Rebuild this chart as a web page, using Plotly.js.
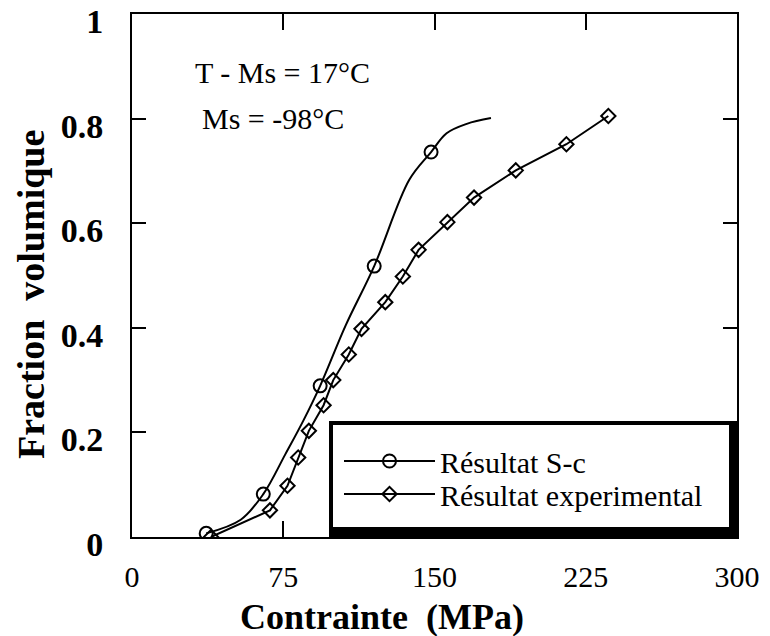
<!DOCTYPE html>
<html><head><meta charset="utf-8">
<script src="https://cdn.plot.ly/plotly-3.0.1.min.js"></script>
<style>html,body{margin:0;padding:0;background:#fff}#chart{width:770px;height:636px}</style>
</head><body><div id="chart"></div>
<script>
// Résultat S-c : points; circles only where drawn in the figure
const scStress   = [36.8, 53.9, 65.1, 76.0, 84.9, 93.3, 105.9, 120.1, 137.5, 148.3, 156.0, 166.0, 178.0];
const scFraction = [0.007, 0.033, 0.082, 0.158, 0.222, 0.289, 0.404, 0.518, 0.683, 0.736, 0.772, 0.790, 0.801];
const scMarked   = [true, false, true, false, false, true, false, true, false, true, false, false, false];

// Résultat experimental
const expStress   = [39.2, 68.4, 77.1, 82.4, 87.7, 95.0, 99.8, 107.5, 113.8, 125.6, 134.3, 142.1, 156.4, 169.6, 190.3, 215.4, 236.2];
const expFraction = [0.0, 0.051, 0.098, 0.152, 0.203, 0.252, 0.300, 0.349, 0.398, 0.449, 0.498, 0.549, 0.602, 0.649, 0.701, 0.751, 0.805];

const xTickVals = [0, 75, 150, 225, 300];
const yTickVals = [0, 0.2, 0.4, 0.6, 0.8, 1];

const xTitle = 'Contrainte\u00A0 (MPa)';
const yTitle = 'Fraction\u00A0 volumique';
const noteLines = ['T - Ms = 17°C', 'Ms = -98°C'];

const serif = 'Liberation Serif, Times New Roman, serif';

const traces = [
  {
    name: 'Résultat S-c', legend: 'legend',
    x: scStress, y: scFraction,
    mode: 'lines+markers',
    line: {color: '#000', width: 2, shape: 'spline', smoothing: 1},
    marker: {
      symbol: 'circle-open', size: 13,
      color: scMarked.map(m => m ? '#000' : 'rgba(0,0,0,0)'),
      line: {width: 2}
    }
  },
  {
    name: 'Résultat experimental', legend: 'legend2',
    x: expStress, y: expFraction,
    mode: 'lines+markers',
    line: {color: '#000', width: 2},
    marker: {symbol: 'diamond-open', size: 11, color: '#000', line: {width: 2}}
  }
];

const L = 132, R = 737, T = 14, B = 537;
const pw = R - L, ph = B - T;
const px = v => (v - L) / pw;
const py = v => (B - v) / ph;

const legX0 = px(329), legY1 = py(421);
const legendStyle = (top) => ({
  x: px(339), y: py(top), xanchor: 'left', yanchor: 'top',
  bgcolor: 'rgba(0,0,0,0)', borderwidth: 0,
  itemwidth: 91,
  font: {family: serif, size: 30, color: '#000'}
});

const layout = {
  width: 770, height: 636,
  paper_bgcolor: '#fff', plot_bgcolor: '#fff',
  margin: {l: L, r: 770 - R, t: T, b: 636 - B},
  showlegend: true,
  font: {family: serif, color: '#000'},
  xaxis: {
    range: [0, 300], tickvals: xTickVals,
    ticks: 'inside', ticklen: 16, tickwidth: 2, tickcolor: '#000',
    showline: true, linewidth: 2, linecolor: '#000', mirror: 'ticks',
    showgrid: false, zeroline: false,
    ticklabelstandoff: 12, ticklabeloverflow: 'allow',
    tickfont: {family: serif, size: 30, color: '#000'}
  },
  yaxis: {
    range: [0, 1], tickvals: yTickVals,
    ticks: 'inside', ticklen: 14, tickwidth: 2, tickcolor: '#000',
    showline: true, linewidth: 2, linecolor: '#000', mirror: 'ticks',
    showgrid: false, zeroline: false,
    ticklabelstandoff: 20, ticklabelshift: 7, ticklabeloverflow: 'allow',
    tickfont: {family: serif, size: 34, weight: 'bold', color: '#000'}
  },
  legend: legendStyle(435),
  legend2: legendStyle(468),
  shapes: [
    {type: 'rect', xref: 'paper', yref: 'paper', layer: 'above',
     x0: legX0, x1: 1.0, y0: 0, y1: legY1,
     fillcolor: '#000', line: {width: 0}},
    {type: 'rect', xref: 'paper', yref: 'paper', layer: 'above',
     x0: legX0 + 4 / pw, x1: 1.0 - 8 / pw, y0: 10 / ph, y1: legY1 - 4 / ph,
     fillcolor: '#fff', line: {width: 0}}
  ],
  annotations: [
    {text: noteLines[0], xref: 'paper', yref: 'paper', x: px(193), y: py(72),
     xanchor: 'left', yanchor: 'middle', showarrow: false,
     font: {family: serif, size: 30, color: '#000'}},
    {text: noteLines[1], xref: 'paper', yref: 'paper', x: px(200), y: py(118),
     xanchor: 'left', yanchor: 'middle', showarrow: false,
     font: {family: serif, size: 30, color: '#000'}},
    {text: xTitle, xref: 'paper', yref: 'paper', x: px(382), y: py(617),
     xanchor: 'center', yanchor: 'middle', showarrow: false,
     font: {family: serif, size: 36, weight: 'bold', color: '#000'}},
    {text: yTitle, xref: 'paper', yref: 'paper', x: px(31), y: py(295),
     xanchor: 'center', yanchor: 'middle', showarrow: false, textangle: -90,
     font: {family: serif, size: 38, weight: 'bold', color: '#000'}}
  ]
};

Plotly.newPlot('chart', traces, layout, {displayModeBar: false, staticPlot: true});
</script>
</body></html>
